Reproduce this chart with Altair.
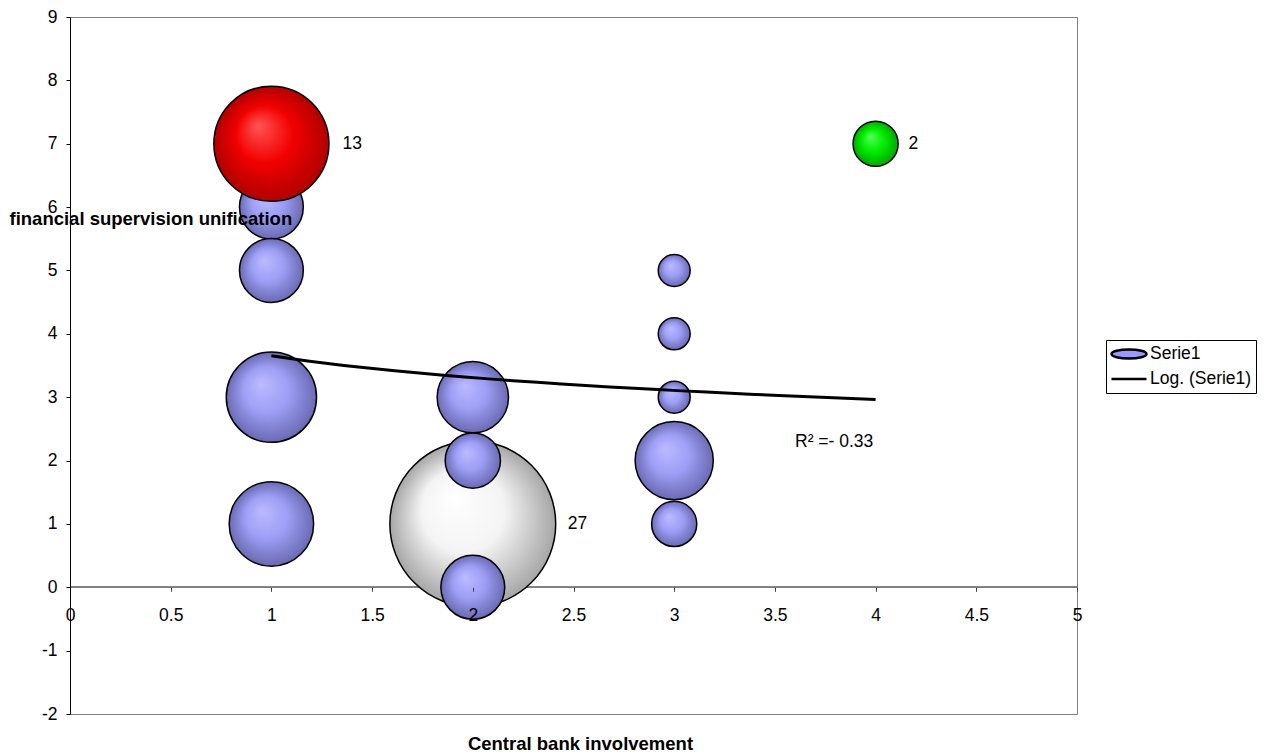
import altair as alt
import pandas as pd

# ---- data ----
x_vals = [1, 1, 1, 1, 1, 2, 2, 2, 2, 3, 3, 3, 3, 3, 4]
y_vals = [7, 6, 5, 3, 1, 3, 2, 1, 0, 5, 4, 3, 2, 1, 7]
bubble_sizes = [13, 4, 4, 8, 7, 5, 3, 27, 4, 1, 1, 1, 6, 2, 2]
groups = ["red", "blue", "blue", "blue", "blue", "blue", "blue", "white",
          "blue", "blue", "blue", "blue", "blue", "blue", "green"]

x_ticks = [0, 0.5, 1, 1.5, 2, 2.5, 3, 3.5, 4, 4.5, 5]
y_ticks = [-2, -1, 0, 1, 2, 3, 4, 5, 6, 7, 8, 9]
x_cross = 0  # the category axis crosses the value axis at y = 0
series_names = ["Serie1", "Log. (Serie1)"]

ann_x = [3.6]
ann_y = [2.29]
ann_text = ["R\u00b2 =- 0.33"]

df = pd.DataFrame({"x": x_vals, "y": y_vals, "size": bubble_sizes, "group": groups})
ann = pd.DataFrame({"x": ann_x, "y": ann_y, "t": ann_text})

FONT = "Liberation Sans"
X_SCALE = alt.Scale(domain=[0, 5], nice=False, zero=False)
Y_SCALE = alt.Scale(domain=[-2, 9], nice=False, zero=False)
SIZE_SCALE = alt.Scale(type="linear", domain=[0, 27], range=[0, 27500], zero=True)


def grad(c0, c1, c2):
    return {"gradient": "radial", "x1": 0.38, "y1": 0.34, "r1": 0,
            "x2": 0.5, "y2": 0.5, "r2": 0.5,
            "stops": [{"offset": 0, "color": c0}, {"offset": 0.5, "color": c1},
                      {"offset": 1, "color": c2}]}


fills = {
    "white": grad("#FFFFFF", "#F4F4F4", "#A6A6A6"),
    "blue": grad("#BBBBFF", "#9E9EF6", "#6A6AB3"),
    "red": grad("#FF5555", "#F20000", "#B00000"),
    "green": grad("#55FF55", "#00EE00", "#00A600"),
}

x_axis = alt.Axis(values=x_ticks, labelExpr="'' + datum.value", title="Central bank involvement",
                  offset=-126.7, titleX=510, titleY=156, titleBaseline="middle",
                  titleAlign="center", titleFontSize=18.5, titleFontWeight="bold",
                  labelFontSize=17.5, labelFlush=False, labelOverlap=False,
                  tickSize=4, labelPadding=15.5, domain=False,
                  tickColor="#404040", grid=False, zindex=1)
y_axis = alt.Axis(values=y_ticks, labelExpr="'' + datum.value",
                  title="financial supervision unification",
                  titleAngle=0, titleAlign="left", titleBaseline="middle", titleLimit=600,
                  titleX=-61, titleY=201, titleFontSize=18.5, titleFontWeight="bold",
                  labelFontSize=17.5, labelFlush=False, labelOverlap=False,
                  tickSize=4, labelPadding=9, domainColor="black", tickColor="black",
                  grid=False, zindex=1)

layers = []

# horizontal axis line at y = 0 (below the bubbles)
layers.append(
    alt.Chart(df).mark_rule(color="#808080", strokeWidth=1)
    .encode(y=alt.datum(x_cross, scale=Y_SCALE))
)

first = True
for g in ["white", "blue", "red", "green"]:
    if first:
        xe = alt.X("x:Q", scale=X_SCALE, axis=x_axis)
        ye = alt.Y("y:Q", scale=Y_SCALE, axis=y_axis)
    else:
        xe = alt.X("x:Q", scale=X_SCALE)
        ye = alt.Y("y:Q", scale=Y_SCALE)
    layers.append(
        alt.Chart(df).transform_filter(alt.datum.group == g)
        .mark_circle(fill=fills[g], stroke="black", strokeWidth=1.5, opacity=1)
        .encode(x=xe, y=ye, size=alt.Size("size:Q", scale=SIZE_SCALE, legend=None))
    )
    first = False

# value labels for highlighted bubbles
for g, dx in [("red", 71), ("white", 95), ("green", 33)]:
    layers.append(
        alt.Chart(df).transform_filter(alt.datum.group == g)
        .mark_text(align="left", baseline="middle", dx=dx, fontSize=17.5,
                   font=FONT, color="black")
        .encode(x=alt.X("x:Q", scale=X_SCALE), y=alt.Y("y:Q", scale=Y_SCALE),
                text=alt.Text("size:Q", format="d"))
    )

ELLIPSE = "M-1,0A1,0.26 0 1,1 1,0A1,0.26 0 1,1 -1,0Z"
is_s1 = f"datum.value === '{series_names[0]}'"

trend = (
    alt.Chart(df)
    .transform_regression("x", "y", method="log")
    .transform_calculate(series=f"'{series_names[1]}'")
    .mark_line(strokeWidth=3)
    .encode(
        x=alt.X("x:Q", scale=X_SCALE),
        y=alt.Y("y:Q", scale=Y_SCALE),
        color=alt.Color(
            "series:N",
            scale=alt.Scale(domain=series_names, range=["black", "black"]),
            legend=alt.Legend(
                title=None, orient="none", legendX=1036, legendY=323,
                strokeColor="black", fillColor="white", padding=4,
                labelFont=FONT, labelFontSize=17.5, labelColor="black",
                labelOffset=2, symbolSize=1225, rowPadding=5, clipHeight=20,
                symbolType=alt.ExprRef(f"{is_s1} ? '{ELLIPSE}' : 'stroke'"),
                symbolFillColor=alt.ExprRef(f"{is_s1} ? '#9999FF' : 'transparent'"),
                symbolStrokeColor="black",
                symbolStrokeWidth=2.5,
            ),
        ),
    )
)
layers.append(trend)

r2 = (
    alt.Chart(ann)
    .mark_text(align="left", baseline="middle", fontSize=17.5, font=FONT, color="black")
    .encode(x=alt.X("x:Q", scale=X_SCALE), y=alt.Y("y:Q", scale=Y_SCALE), text="t:N")
)
layers.append(r2)

chart = (
    alt.layer(*layers)
    .properties(width=1007, height=697, autosize=alt.AutoSizeParams(type="none"),
                padding={"left": 62, "top": 9, "right": 181, "bottom": 46})
    .configure(font=FONT, background="white")
    .configure_view(stroke="#808080", strokeWidth=1)
    .configure_axis(labelFont=FONT, titleFont=FONT, labelColor="black", titleColor="black")
)

chart.save("out.html", embed_options={"renderer": "svg", "actions": False})
